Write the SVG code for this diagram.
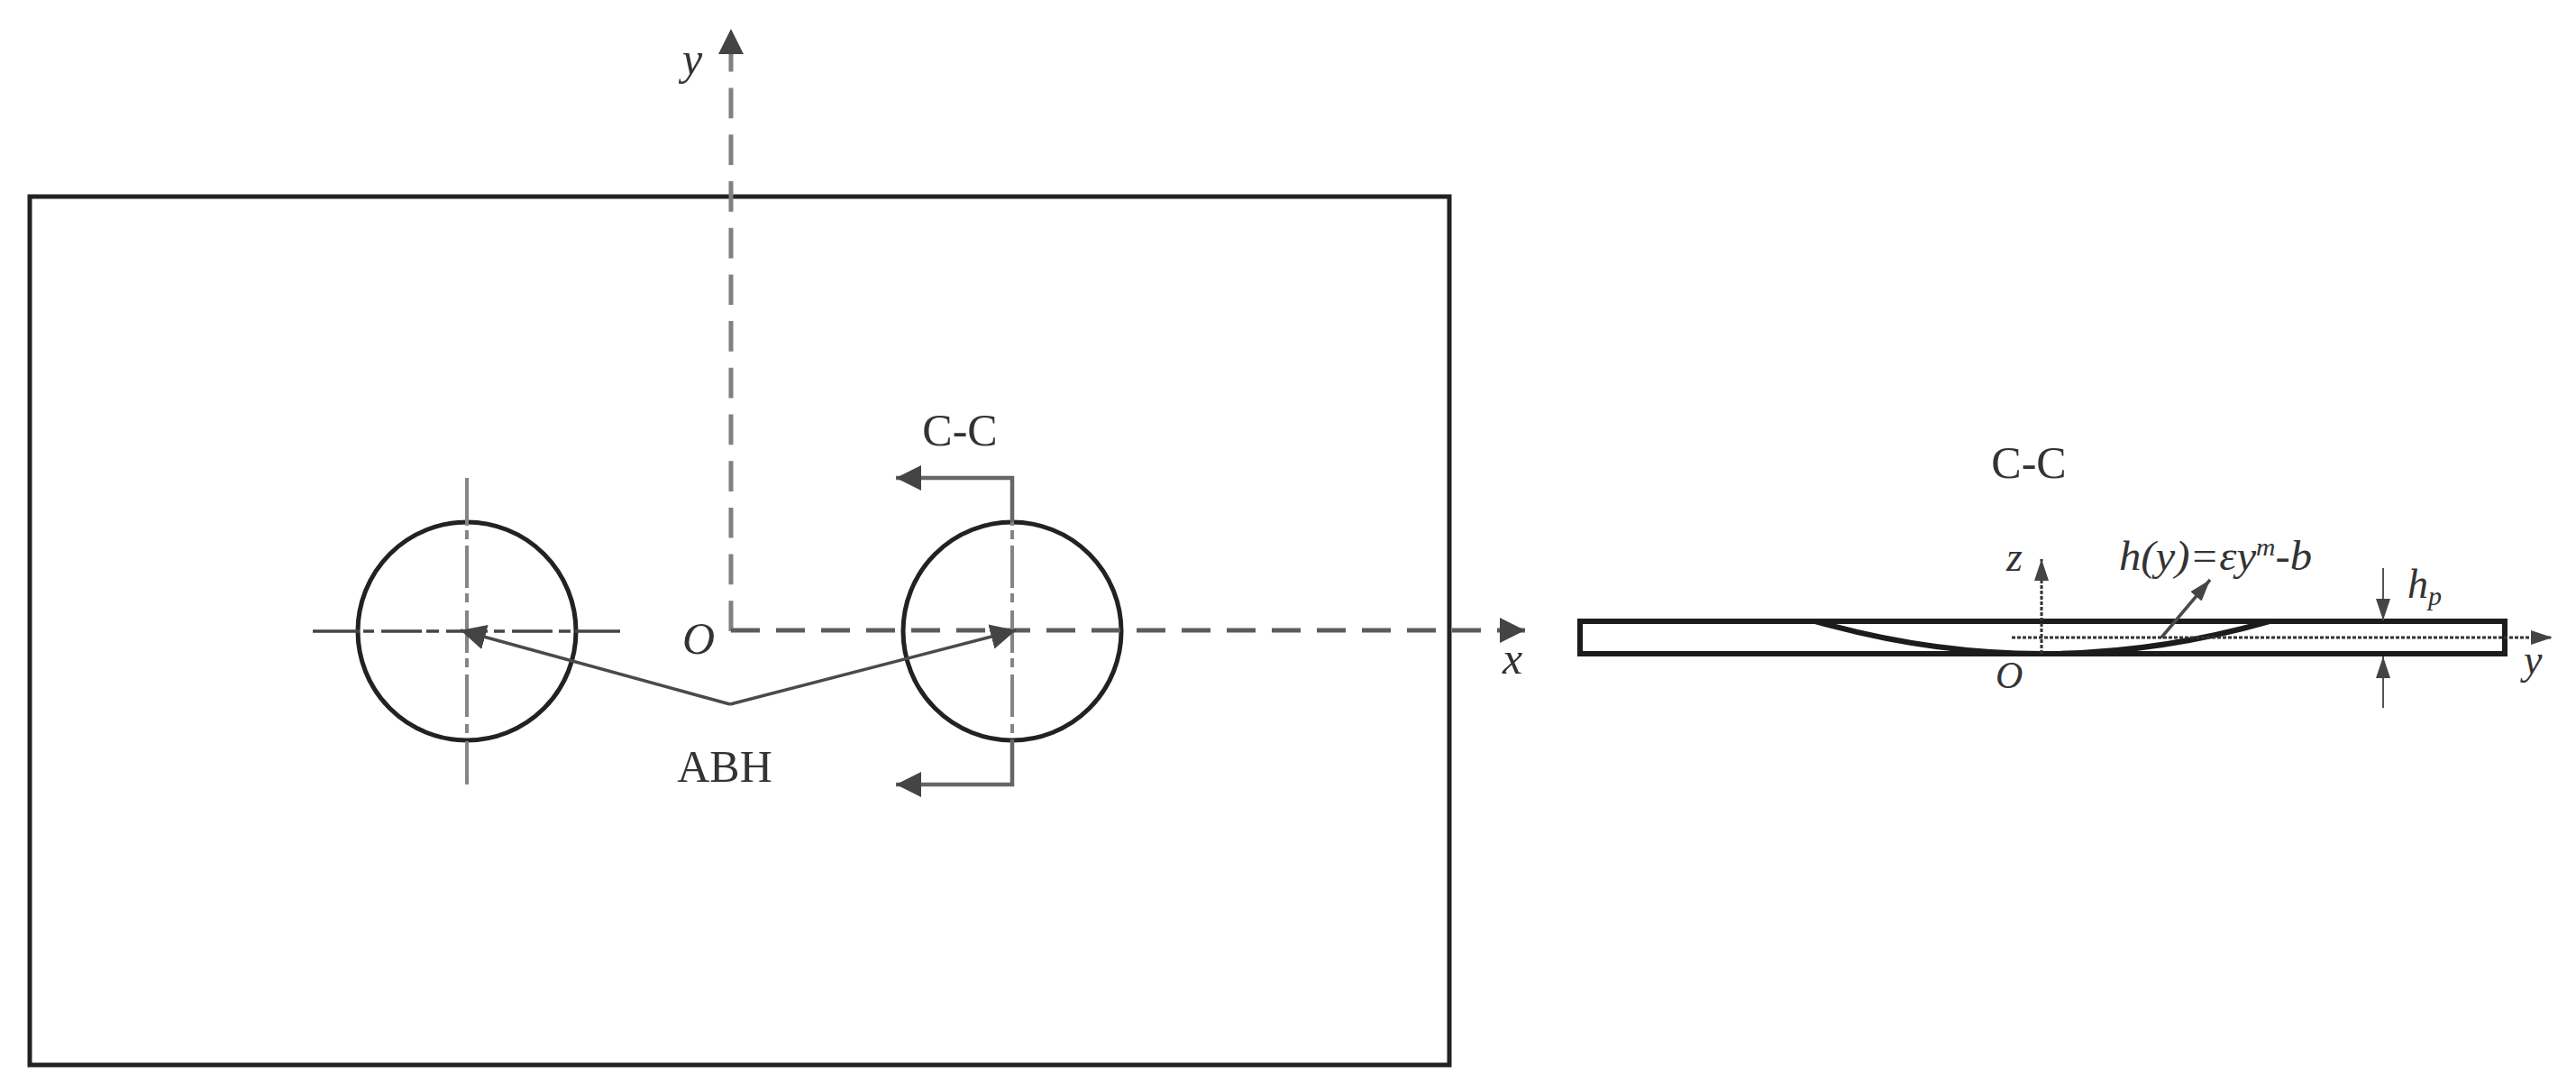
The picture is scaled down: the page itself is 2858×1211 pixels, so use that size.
<svg xmlns="http://www.w3.org/2000/svg" width="2858" height="1211" viewBox="0 0 2858 1211">
<defs>
<style>
text{font-family:"Liberation Serif","Times New Roman",serif;fill:#333}
.lab{font-size:50px}
.it{font-style:italic}
.sm{font-size:46px;font-style:italic}
.so{font-size:42px;font-style:italic}
.out{fill:none;stroke:#222;stroke-width:5}
.pl{fill:none;stroke:#1c1c1c;stroke-width:6}
.axv{fill:none;stroke:#808080;stroke-width:5;stroke-dasharray:33.7 18}
.axh{fill:none;stroke:#5c5c5c;stroke-width:5;stroke-dasharray:32 18}
.clv{fill:none;stroke:#858585;stroke-width:4;stroke-dasharray:53 5 10 7 47 6 10 9 47 6 10 8 47 8 10 9 48}
.clh{fill:none;stroke:#444;stroke-width:3.5;stroke-dasharray:52 4 12 8 45 5 14 8 46 7 12 8 45 7 13 5 51}
.sec{fill:none;stroke:#666;stroke-width:4.5}
.lead{fill:none;stroke:#4a4a4a;stroke-width:3.5}
.thin{fill:none;stroke:#555;stroke-width:2}
.fine{fill:none;stroke:#333;stroke-width:3;stroke-dasharray:4 2}
</style>
<marker id="big" markerUnits="userSpaceOnUse" markerWidth="30" markerHeight="30" refX="28" refY="14" orient="auto"><path d="M0 0L28 14L0 28Z" fill="#444"/></marker>
<marker id="small" markerUnits="userSpaceOnUse" markerWidth="26" markerHeight="18" refX="24" refY="8" orient="auto"><path d="M0 0L24 8L0 16Z" fill="#444"/></marker>
</defs>
<rect width="2858" height="1211" fill="#fff"/>
<g id="plate"><rect class="out" x="33" y="218" width="1575" height="963"/></g>
<g id="hole-left"><circle class="out" cx="518" cy="700" r="121"/></g>
<g id="hole-right"><circle class="out" cx="1123" cy="700" r="121"/></g>
<g id="section-plate">
<rect class="pl" x="1753" y="689" width="1026" height="36"/>
<path class="pl" d="M2014 689Q2266 761 2518 689"/>
</g>
<g id="connectors">
<path class="axv" d="M811 700V32" marker-end="url(#big)"/>
<path class="axh" d="M811 699H1692" marker-end="url(#big)"/>
<path class="clv" d="M518 530V870"/>
<path class="clh" d="M347 700H688"/>
<path class="clv" d="M1123 530V870"/>
<path class="sec" d="M1123 579V530H994" marker-end="url(#big)"/>
<path class="sec" d="M1123 820V870H994" marker-end="url(#big)"/>
<path class="lead" d="M810 781L511 699" marker-end="url(#big)"/>
<path class="lead" d="M810 781L1127 699" marker-end="url(#big)"/>
<path class="fine" d="M2232 707H2832" marker-end="url(#small)"/>
<path class="fine" d="M2265 725V620" marker-end="url(#small)"/>
<path class="lead" d="M2398 707L2452 643" marker-end="url(#small)"/>
<path class="thin" d="M2644 630V688" marker-end="url(#small)"/>
<path class="thin" d="M2644 785V728" marker-end="url(#small)"/>
</g>
<g id="labels">
<text class="lab" x="1065" y="494" text-anchor="middle">C-C</text>
<text class="lab" x="804" y="867" text-anchor="middle">ABH</text>
<text class="lab it" x="757" y="725">O</text>
<text class="lab it" x="757" y="82">y</text>
<text class="lab it" x="1667" y="747">x</text>
<text class="lab" x="2251" y="530" text-anchor="middle">C-C</text>
<text class="sm" x="2226" y="633">z</text>
<text class="sm" x="2351" y="632" textLength="214" lengthAdjust="spacingAndGlyphs">h(y)=εy<tspan dy="-16" font-size="28">m</tspan><tspan dy="16">-b</tspan></text>
<text class="so" x="2214" y="763">O</text>
<text class="sm" x="2800" y="747">y</text>
<text class="sm" x="2671" y="663">h<tspan dy="8" font-size="30">p</tspan></text>
</g>
</svg>
